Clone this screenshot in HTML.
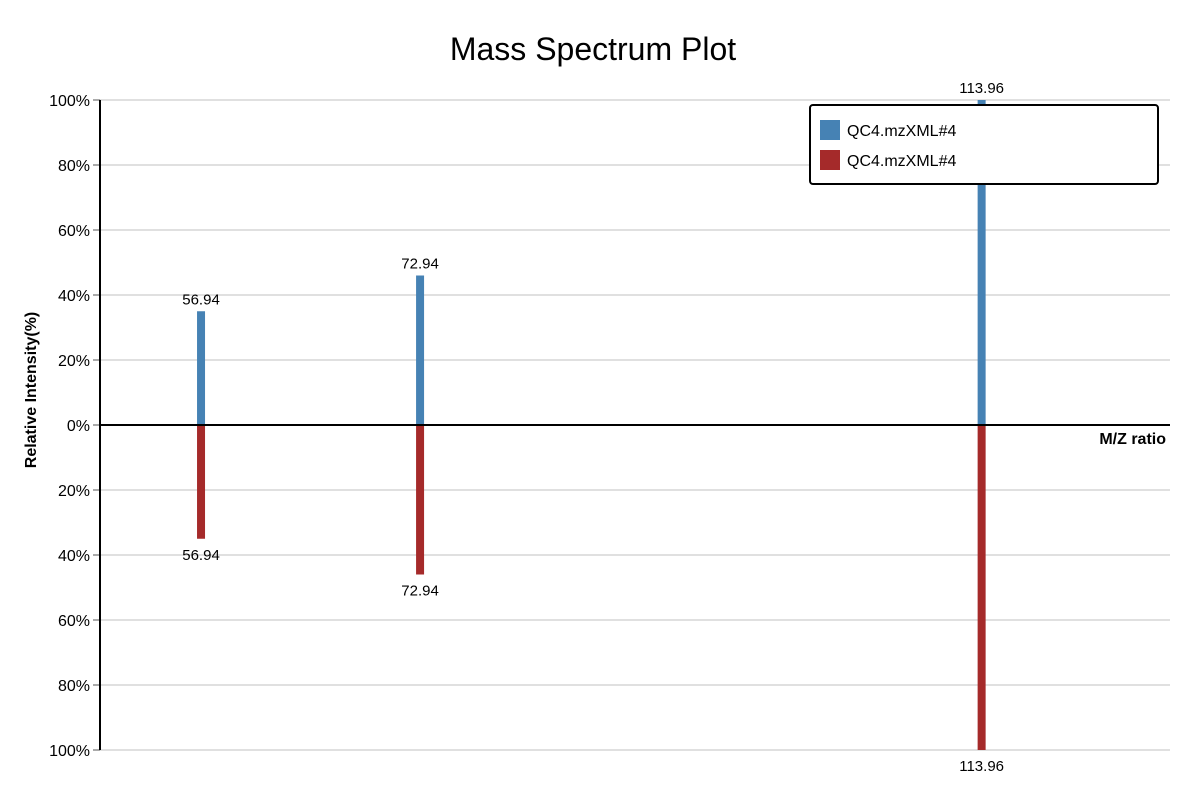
<!DOCTYPE html>
<html><head><meta charset="utf-8"><style>
body{margin:0;background:#fff;}
text{font-family:"Liberation Sans",sans-serif;}
</style></head><body>
<svg id="chart" width="1200" height="800" xmlns="http://www.w3.org/2000/svg">
<text x="593" y="60" text-anchor="middle" font-size="32" fill="#000">Mass Spectrum Plot</text>
<g id="grid"></g><g id="bars"></g><g id="axes"></g>
<g>
<rect x="810" y="105" width="348" height="79" rx="3" fill="#fff" stroke="#000" stroke-width="2"/>
<rect x="820" y="120" width="20" height="20" fill="#4682b4"/>
<text x="847" y="136" font-size="16">QC4.mzXML#4</text>
<rect x="820" y="150" width="20" height="20" fill="#a52a2a"/>
<text x="847" y="166" font-size="16">QC4.mzXML#4</text>
</g>
</svg>
<script>
const mzValues=[56.94,72.94,113.96];
const topIntensity=[35,46,100];
const bottomIntensity=[35,46,100];
const yTicks=[100,80,60,40,20,0,20,40,60,80,100];
const NS="http://www.w3.org/2000/svg";
const x0=100,x1=1170,y0=425,yTop=100,yBot=750;
const xMin=49.56,xMax=127.72;
const xs=v=>x0+(v-xMin)/(xMax-xMin)*(x1-x0);
const ys=p=>y0-p*(y0-yTop)/100;
function mk(t,a,p){const e=document.createElementNS(NS,t);for(const k in a)e.setAttribute(k,a[k]);p.appendChild(e);return e;}
const grid=document.getElementById('grid'),axes=document.getElementById('axes'),bars=document.getElementById('bars');
yTicks.forEach((t,i)=>{
  const y=yTop+i*(yBot-yTop)/(yTicks.length-1);
  const g=mk('line',{x1:x0,x2:x1,y1:y,y2:y,stroke:'#e0e0e0','stroke-width':2},grid);
  
  
  const tk=mk('line',{x1:x0-7,x2:x0,y1:y,y2:y,stroke:'#aaa','stroke-width':2},axes);
  
  
  const lb=mk('text',{x:x0-10,y:y+6,'text-anchor':'end','font-size':16},axes);
  lb.textContent=t+'%';
  
  
});
mzValues.forEach((m,i)=>{
  const x=xs(m);
  const b=mk('rect',{x:x-4,y:ys(topIntensity[i]),width:8,height:y0-ys(topIntensity[i]),fill:'#4682b4'},bars);
  
  
  const t=mk('text',{x:x,y:ys(topIntensity[i])-7,'text-anchor':'middle','font-size':15},bars);
  t.textContent=m.toFixed(2);
  
  
  const yb=y0+bottomIntensity[i]*(yBot-y0)/100;
  const r=mk('rect',{x:x-4,y:y0,width:8,height:yb-y0,fill:'#a52a2a'},bars);
  
  
  const t2=mk('text',{x:x,y:yb+21,'text-anchor':'middle','font-size':15},bars);
  t2.textContent=m.toFixed(2);
  
  
});
const ya=mk('line',{x1:x0,x2:x0,y1:yTop,y2:yBot,stroke:'#000','stroke-width':2},axes);


const xa=mk('line',{x1:x0,x2:x1,y1:y0,y2:y0,stroke:'#000','stroke-width':2},axes);


const xt=mk('text',{x:1166,y:444,'text-anchor':'end','font-size':16,'font-weight':'bold'},axes);
xt.textContent='M/Z ratio';


const yt=mk('text',{x:0,y:0,'text-anchor':'middle','font-size':16,'font-weight':'bold',transform:'translate(36,390) rotate(-90)'},axes);
yt.textContent='Relative Intensity(%)';


</script>
</body></html>
